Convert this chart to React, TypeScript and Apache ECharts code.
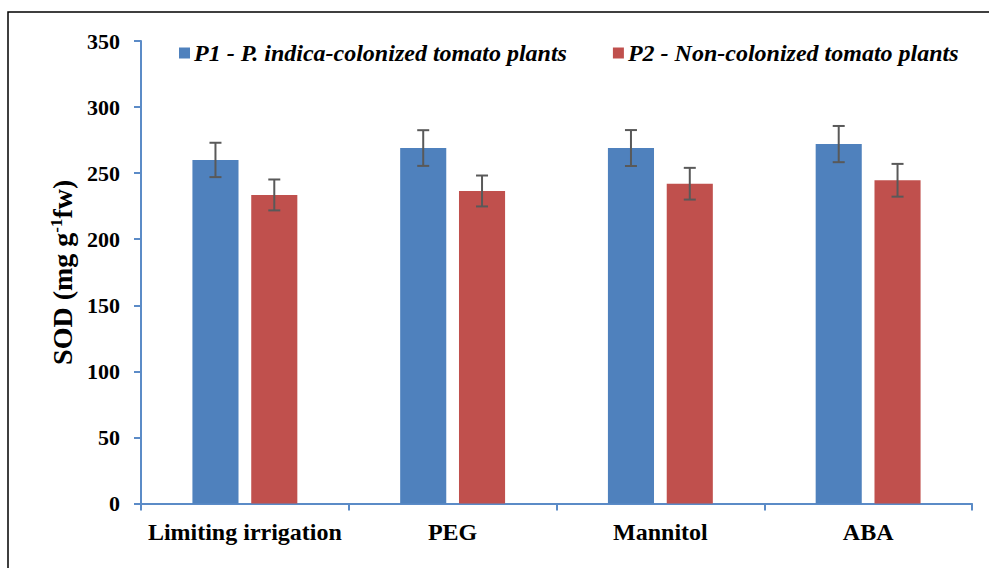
import React, { useEffect, useRef } from "react";
import * as echarts from "echarts";

const categories = ["Limiting irrigation", "PEG", "Mannitol", "ABA"];
const seriesNames = [
  "P1 - P. indica-colonized tomato plants",
  "P2 - Non-colonized tomato plants",
];
const p1Values = [260, 269, 269, 272];
const p1Errors = [13, 13.5, 13.6, 13.7];
const p2Values = [233.5, 236.5, 242, 244.6];
const p2Errors = [11.7, 11.7, 12, 12.4];
const yTicks = { min: 0, max: 350, interval: 50 };

const BLUE = "#4F81BD";
const RED = "#C0504D";
const AXIS = "#5B8BC7";
const ERR = "#595959";
const FONT = "'Liberation Serif', 'Times New Roman', serif";

const CAT_GAP = 0.495;
const BAR_GAP = 0.276;

function errorSeries(values: number[], errors: number[], side: number) {
  return {
    type: "custom",
    silent: true,
    z: 5,
    data: values.map((v, i) => [i, v, errors[i]]),
    encode: { x: 0, y: 1 },
    renderItem: (_params: any, api: any) => {
      const idx = api.value(0);
      const val = api.value(1);
      const err = api.value(2);
      const band = api.size([1, 0])[0];
      const bw = (band * (1 - CAT_GAP)) / (2 + BAR_GAP);
      const off = (side * bw * (1 + BAR_GAP)) / 2;
      const top = api.coord([idx, val + err]);
      const bot = api.coord([idx, val - err]);
      const x = top[0] + off;
      const cap = 6;
      const style = { stroke: ERR, lineWidth: 2 };
      return {
        type: "group",
        children: [
          { type: "line", shape: { x1: x, y1: top[1], x2: x, y2: bot[1] }, style },
          { type: "line", shape: { x1: x - cap, y1: top[1], x2: x + cap, y2: top[1] }, style },
          { type: "line", shape: { x1: x - cap, y1: bot[1], x2: x + cap, y2: bot[1] }, style },
        ],
      };
    },
  };
}

export default function App() {
  const ref = useRef<HTMLDivElement>(null);

  useEffect(() => {
    if (!ref.current) return;
    const chart = echarts.init(ref.current, undefined, { renderer: "svg" });
    chart.setOption({
      animation: false,
      backgroundColor: "#ffffff",
      textStyle: { fontFamily: FONT },
      graphic: [
        {
          type: "rect",
          shape: { x: 8, y: 12, width: 1100, height: 700 },
          style: { fill: "none", stroke: "#000", lineWidth: 1.5 },
          silent: true,
        },
      ],
      legend: {
        top: 36,
        left: 174,
        itemWidth: 11,
        itemHeight: 11,
        itemGap: 46,
        icon: "rect",
        data: seriesNames,
        textStyle: {
          fontFamily: FONT,
          fontSize: 24,
          fontWeight: "bold",
          fontStyle: "italic",
          color: "#000",
          padding: [0, 0, 0, -1],
        },
      },
      grid: { left: 141, right: 17, top: 41, bottom: 64.5, containLabel: false },
      xAxis: {
        type: "category",
        data: categories,
        axisLine: { lineStyle: { color: AXIS, width: 2 } },
        axisTick: { show: true, length: 7, lineStyle: { color: AXIS, width: 2 } },
        axisLabel: {
          interval: 0,
          margin: 16,
          fontFamily: FONT,
          fontSize: 24,
          fontWeight: "bold",
          color: "#000",
        },
      },
      yAxis: {
        type: "value",
        min: yTicks.min,
        max: yTicks.max,
        interval: yTicks.interval,
        splitLine: { show: false },
        axisLine: { show: true, lineStyle: { color: AXIS, width: 2 } },
        axisTick: { show: true, inside: false, length: 7, lineStyle: { color: AXIS, width: 2 } },
        axisLabel: {
          margin: 21,
          fontFamily: FONT,
          fontSize: 22,
          fontWeight: "bold",
          color: "#000",
        },
        name: "{a|SOD (mg g}{s|-1}{a|fw)}",
        nameLocation: "middle",
        nameGap: 64,
        nameRotate: 90,
        nameTextStyle: {
          rich: {
            a: { fontFamily: FONT, fontSize: 28, fontWeight: "bold", color: "#000" },
            s: {
              fontFamily: FONT,
              fontSize: 17,
              fontWeight: "bold",
              color: "#000",
              verticalAlign: "top",
              padding: [0, 0, 10, 0],
            },
          },
        },
      },
      series: [
        {
          name: seriesNames[0],
          type: "bar",
          data: p1Values,
          itemStyle: { color: BLUE },
          barCategoryGap: `${CAT_GAP * 100}%`,
          barGap: `${BAR_GAP * 100}%`,
        },
        {
          name: seriesNames[1],
          type: "bar",
          data: p2Values,
          itemStyle: { color: RED },
          barCategoryGap: `${CAT_GAP * 100}%`,
          barGap: `${BAR_GAP * 100}%`,
        },
        errorSeries(p1Values, p1Errors, -1),
        errorSeries(p2Values, p2Errors, 1),
      ],
    });
    return () => chart.dispose();
  }, []);

  return (
    <div
      ref={ref}
      style={{ position: "fixed", left: 0, top: 0, width: 989, height: 568 }}
    />
  );
}
